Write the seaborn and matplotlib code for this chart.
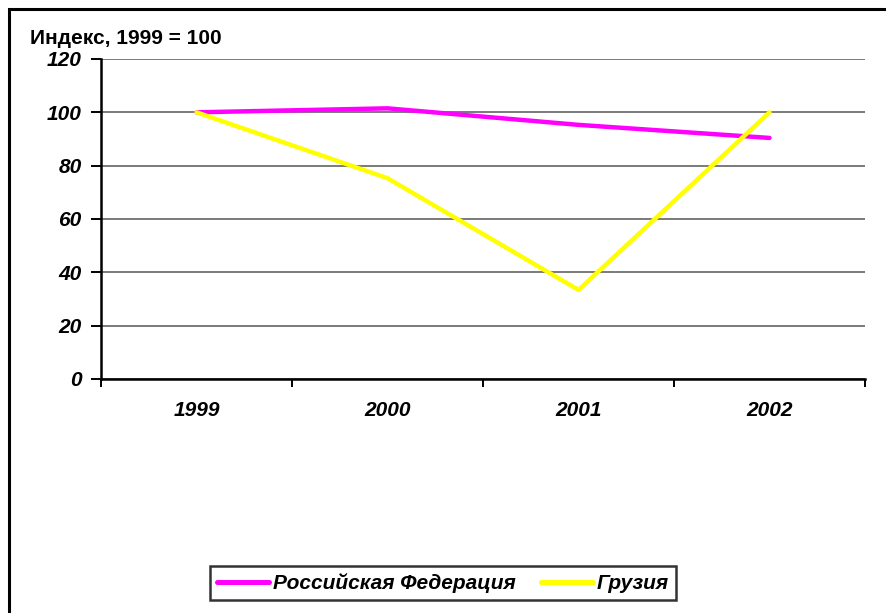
import numpy as np
import pandas as pd
import matplotlib.pyplot as plt
import seaborn as sns
from matplotlib.patches import Rectangle
from matplotlib.lines import Line2D

years = ['1999', '2000', '2001', '2002']
russia = [100, 101.5, 95.3, 90.4]
georgia = [100, 75.3, 33.4, 100]
series_names = ['Российская Федерация', 'Грузия']
colors = ['#FF00FF', '#FFFF00']
y_ticks = [0, 20, 40, 60, 80, 100, 120]

sns.set_style('white')
plt.rcParams['font.family'] = ['Liberation Sans', 'DejaVu Sans']
plt.rcParams['text.color'] = 'black'
plt.rcParams['xtick.color'] = 'black'
plt.rcParams['ytick.color'] = 'black'

df = pd.DataFrame({
    'year': years * 2,
    'value': russia + georgia,
    'series': [series_names[0]] * len(years) + [series_names[1]] * len(years),
})

fig = plt.figure(figsize=(8.87, 6.13), dpi=100)
ax = fig.add_axes([101 / 887, 1 - 379 / 613, 764 / 887, 320 / 613])

sns.lineplot(data=df, x='year', y='value', hue='series', palette=colors,
             hue_order=series_names, linewidth=3.2, ax=ax, legend=False,
             solid_capstyle='round')

lab_font = {'size': 15, 'weight': 'bold', 'style': 'italic'}
ax.set_xlim(-0.5, 3.5)
ax.set_ylim(0, 120)
ax.set_yticks(y_ticks)
ax.set_yticklabels([str(v) for v in y_ticks], fontdict=lab_font)
ax.set_xticks(np.arange(-0.5, 4, 1))
ax.set_xticklabels([''] * 5)
ax.set_xticks(range(len(years)), minor=True)
ax.set_xticklabels(years, minor=True, fontdict=lab_font)
ax.tick_params(axis='x', which='minor', bottom=True, length=0, pad=16)
ax.tick_params(axis='x', which='major', bottom=True, length=6, width=1.4, direction='out')
ax.tick_params(axis='y', left=True, length=7, width=1.4, direction='out', pad=7)
ax.set_xlabel('')
ax.set_ylabel('')

ax.grid(axis='y', color='#707070', linewidth=1.3)
ax.set_axisbelow(True)
for side in ['top', 'right']:
    ax.spines[side].set_visible(False)
for side in ['left', 'bottom']:
    ax.spines[side].set_color('black')
    ax.spines[side].set_linewidth(1.8)

fig.text(30 / 887, 1 - 38 / 613, 'Индекс, 1999 = 100', fontsize=15, fontweight='bold',
         va='center', ha='left')

# legend box at the bottom
handles = [Line2D([0], [0], color=c, linewidth=3.6, solid_capstyle='round') for c in colors]
leg = fig.legend(handles, series_names, loc='center', bbox_to_anchor=(443 / 887, 1 - 583 / 613),
                 ncol=2, frameon=True, fancybox=False, edgecolor='black', handlelength=2.5,
                 handletextpad=0.2, columnspacing=1.2, borderpad=0.35,
                 prop={'size': 15, 'weight': 'bold', 'style': 'italic'})
leg.get_frame().set_linewidth(1.8)

# outer chart border (only top and left are visible in the reference)
fig.patches.append(Rectangle((9 / 887, -0.05), 1.0, 1.05 - 9 / 613, transform=fig.transFigure,
                             fill=False, edgecolor='black', linewidth=2.2))

fig.savefig('out.png', dpi=100, facecolor='white')
